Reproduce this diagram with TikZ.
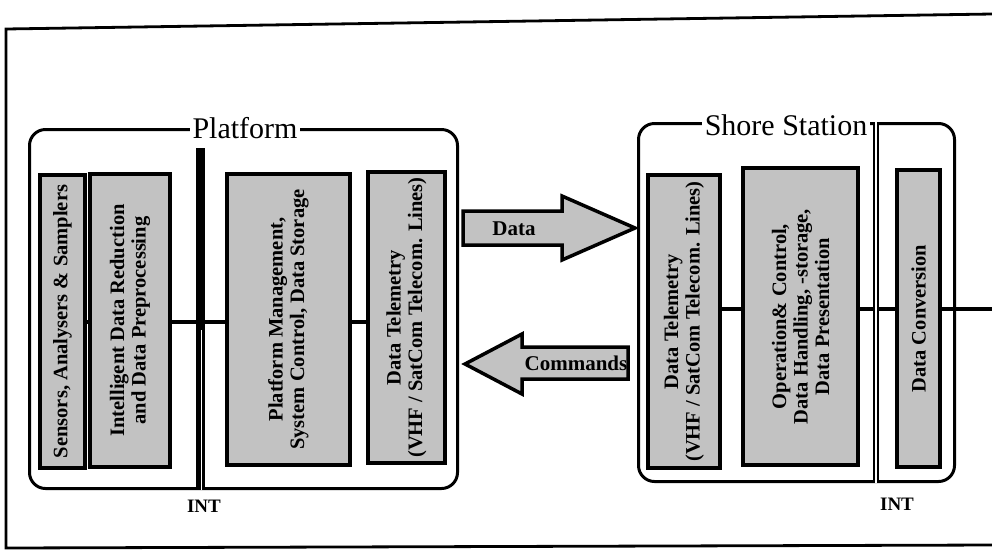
\documentclass[tikz,border=0pt]{standalone}
\usepackage{fontspec}
\setmainfont{Liberation Serif}
\begin{document}
\begin{tikzpicture}[x=1pt,y=-1pt,
  frame/.style={line width=2.8pt},
  container/.style={draw, line width=3pt, rounded corners=16pt, inner sep=0pt},
  blk/.style={draw, line width=4pt, fill=black!24, inner sep=0pt},
  lbl/.style={rotate=90, align=center, font=\bfseries\fontsize{20.5}{21.5}\selectfont, inner sep=0pt},
  title/.style={fill=white, inner sep=3pt, font=\fontsize{30}{32}\selectfont},
  conn/.style={line width=3.8pt},
  bigarrow/.style={draw, line width=3.5pt, fill=black!24, line join=miter},
  arrlbl/.style={font=\bfseries\fontsize{21}{22}\selectfont, inner sep=0pt},
  intlbl/.style={font=\bfseries\fontsize{19}{20}\selectfont, inner sep=0pt},
  intbar/.style={line width=9pt},
  intgap/.style={white, line width=0.8pt},
  intdouble/.style={line width=2.2pt, double=white, double distance=2pt},
]
\useasboundingbox (0,0) rectangle (992,558);

% outer frame
\draw[frame] (992,14) -- (6,29) -- (6,548) -- (992,545);

% containers
\node[container, minimum width=428pt, minimum height=359pt, anchor=north west] (plat) at (28,128) {};
\node[container, minimum width=316pt, minimum height=358pt, anchor=north west] (shore) at (637,122) {};

% platform blocks
\node[blk, minimum width=45pt, minimum height=293pt] (sens) at (62.5,321.5) {};
\node[blk, minimum width=80pt, minimum height=293pt] (intel) at (130,320.5) {};
\node[blk, minimum width=123pt, minimum height=291pt] (pm) at (288.5,319.5) {};
\node[blk, minimum width=77pt, minimum height=291pt] (dtp) at (406.5,317.5) {};

\node[lbl] (sensT) at (sens.center) {Sensors, Analysers \& Samplers};
\node[lbl] (intelT) at (intel.center) {Intelligent Data Reduction\\and Data Preprocessing};
\node[lbl] (pmT) at (pm.center) {Platform Management,\\System Control, Data Storage};
\node[lbl] (dtpT) at (dtp.center) {Data Telemetry\\(VHF / SatCom Telecom. Lines)};

% shore blocks
\node[blk, minimum width=72pt, minimum height=293pt] (dts) at (684,321.5) {};
\node[blk, minimum width=115pt, minimum height=297pt] (oc) at (800.5,316.5) {};
\node[blk, minimum width=43pt, minimum height=297pt] (dc) at (918.5,318.5) {};

\node[lbl] (dtsT) at (dts.center) {Data Telemetry\\(VHF / SatCom Telecom. Lines)};
\node[lbl] (ocT) at (oc.center) {Operation\& Control,\\Data Handling, -storage,\\Data Presentation};
\node[lbl] (dcT) at (dc.center) {Data Conversion};

% connectors
\coordinate (pl) at (0,322);
\coordinate (sl) at (0,309);
\coordinate (edge) at (992,309);
\draw[conn] (sens.east |- pl) -- (intel.west |- pl);
\draw[conn] (intel.east |- pl) -- (pm.west |- pl);
\draw[conn] (pm.east |- pl) -- (dtp.west |- pl);
\draw[conn] (dts.east |- sl) -- (oc.west |- sl);
\draw[conn] (oc.east |- sl) -- (dc.west |- sl);
\draw[conn] (dc.east |- sl) -- (edge);

% titles
\node[title] (platT) at (245,128) {Platform};
\node[title] (shoreT) at (786,125) {Shore Station};

% INT bars
\coordinate (intPtop) at (200,148);
\coordinate (intPmid) at (201,330);
\coordinate (intStop) at (876,122);
\draw[intbar] (intPtop) -- (intPtop |- plat.south);
\draw[intgap] (intPmid) -- (intPmid |- plat.south);
\draw[intdouble] (intStop) -- (intStop |- shore.south);
\node[intlbl] (intP) at (204,506) {INT};
\node[intlbl] (intS) at (897,504) {INT};

% big arrows
\draw[bigarrow] (463,211) -- (562,211) -- (562,196) -- (635,228) -- (562,260) -- (562,245) -- (463,245) -- cycle;
\node[arrlbl] (dataL) at (514,229) {Data};
\draw[bigarrow] (628,347) -- (522,347) -- (522,334) -- (465,364) -- (522,394) -- (522,379) -- (628,379) -- cycle;
\node[arrlbl] (cmdL) at (576,363) {Commands};
\end{tikzpicture}
\end{document}
